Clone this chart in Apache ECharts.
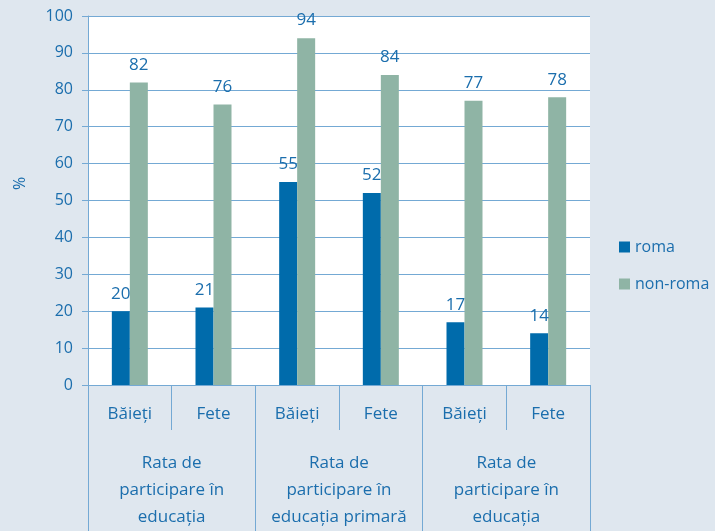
<!DOCTYPE html>
<html>
<head>
<meta charset="utf-8">
<script src="https://cdn.jsdelivr.net/npm/echarts@6/dist/echarts.min.js"></script>
<style>
  html, body { margin: 0; padding: 0; background: #dfe7ef; overflow: hidden; }
  #main { width: 715px; height: 531px; }
</style>
</head>
<body>
<div id="main"></div>
<script>
var subCategories = ['Băieți', 'Fete', 'Băieți', 'Fete', 'Băieți', 'Fete'];
var groups = ['Rata de\nparticipare în\neducația', 'Rata de\nparticipare în\neducația primară', 'Rata de\nparticipare în\neducația'];
var roma = [20, 21, 55, 52, 17, 14];
var nonRoma = [82, 76, 94, 84, 77, 78];

var textBlue = '#1b6ead';
var lineBlue = '#74a9d4';
var font = 'Open Sans';

var myChart = echarts.init(document.getElementById('main'));

var option = {
    backgroundColor: '#dfe7ef',
    animation: false,
    textStyle: { fontFamily: font },
    grid: {
        left: 88,
        right: 125,
        top: 16,
        bottom: 141,
        show: true,
        backgroundColor: '#ffffff',
        borderWidth: 0
    },
    legend: {
        orient: 'vertical',
        left: 614,
        top: 234,
        itemWidth: 11,
        itemHeight: 11,
        itemGap: 21,
        icon: 'rect',
        textStyle: { color: textBlue, fontSize: 16, fontFamily: font },
        data: ['roma', 'non-roma']
    },
    graphic: [{
        type: 'text',
        x: 12,
        y: 190,
        rotation: Math.PI / 2,
        style: { text: '%', fill: textBlue, fontSize: 16, fontFamily: font }
    }],
    xAxis: [
        {
            type: 'category',
            data: subCategories,
            position: 'bottom',
            axisLine: { show: true, lineStyle: { color: lineBlue, width: 1 } },
            axisTick: { show: true, length: 45, interval: 0, lineStyle: { color: lineBlue } },
            axisLabel: { color: textBlue, fontSize: 17, margin: 21, interval: 0, fontFamily: font }
        },
        {
            type: 'category',
            data: groups,
            position: 'bottom',
            axisLine: { show: false },
            axisTick: { show: true, length: 150, interval: 0, lineStyle: { color: lineBlue } },
            axisLabel: { color: textBlue, fontSize: 17, lineHeight: 27, margin: 65, interval: 0, fontFamily: font }
        }
    ],
    yAxis: {
        type: 'value',
        min: 0,
        max: 100,
        interval: 10,
        axisLine: { show: true, lineStyle: { color: lineBlue } },
        axisTick: { show: true, length: 6, lineStyle: { color: lineBlue } },
        axisLabel: { color: textBlue, fontSize: 16, margin: 15, padding: [5, 0, 0, 0], fontFamily: font },
        splitLine: { show: true, lineStyle: { color: lineBlue, width: 1 } }
    },
    series: [
        {
            name: 'roma',
            type: 'bar',
            xAxisIndex: 0,
            barWidth: 18,
            barGap: '0%',
            itemStyle: { color: '#006bab' },
            label: { show: true, position: 'top', distance: 9, color: textBlue, fontSize: 17, fontFamily: font },
            data: roma
        },
        {
            name: 'non-roma',
            type: 'bar',
            xAxisIndex: 0,
            barWidth: 18,
            itemStyle: { color: '#8fb4a5' },
            label: { show: true, position: 'top', distance: 9, color: textBlue, fontSize: 17, fontFamily: font },
            data: nonRoma
        }
    ]
};

myChart.setOption(option);
</script>
</body>
</html>
